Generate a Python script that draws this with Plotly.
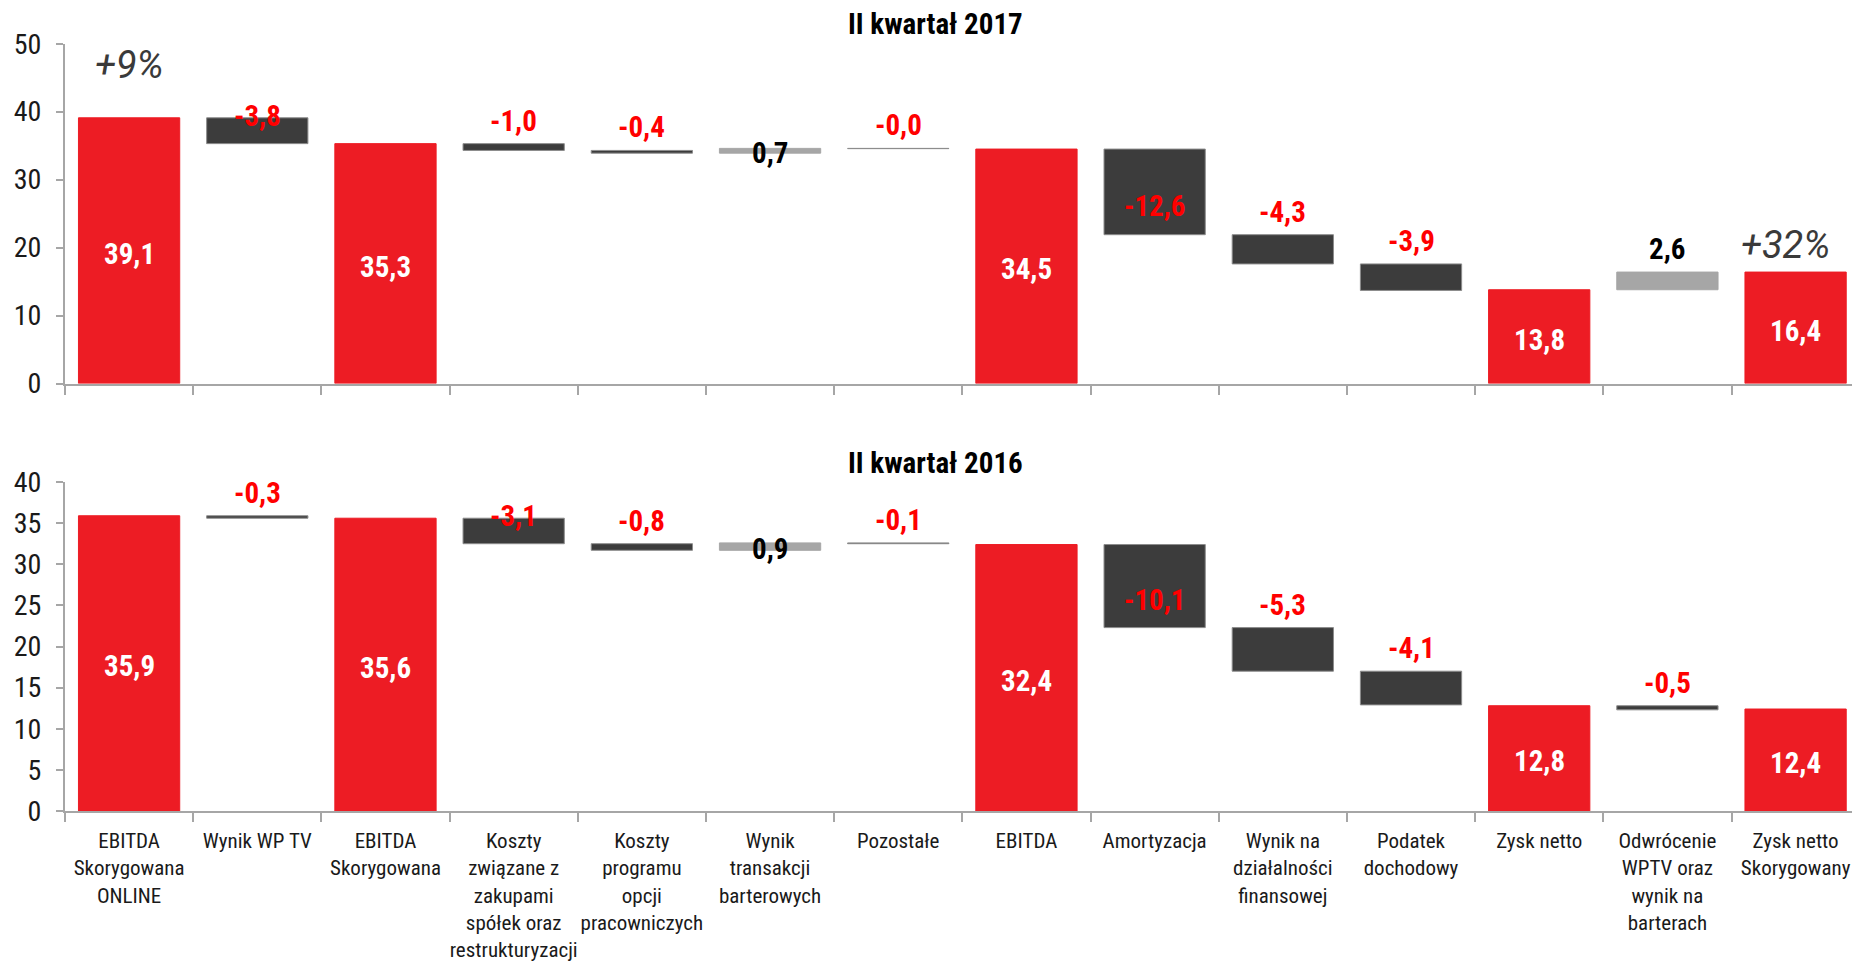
import plotly.graph_objects as go

# ---------------- data ----------------
categories = [
    "EBITDA<br>Skorygowana<br>ONLINE",
    "Wynik WP TV",
    "EBITDA<br>Skorygowana",
    "Koszty<br>związane z<br>zakupami<br>spółek oraz<br>restrukturyzacji",
    "Koszty<br>programu<br>opcji<br>pracowniczych",
    "Wynik<br>transakcji<br>barterowych",
    "Pozostałe",
    "EBITDA",
    "Amortyzacja",
    "Wynik na<br>działalności<br>finansowej",
    "Podatek<br>dochodowy",
    "Zysk netto",
    "Odwrócenie<br>WPTV oraz<br>wynik na<br>barterach",
    "Zysk netto<br>Skorygowany",
]
measures = ["absolute", "relative", "absolute", "relative", "relative", "relative", "relative",
            "absolute", "relative", "relative", "relative", "absolute", "relative", "absolute"]

values_2017 = [39.1, -3.8, 35.3, -1.0, -0.4, 0.7, -0.04, 34.5, -12.6, -4.3, -3.9, 13.8, 2.6, 16.4]
labels_2017 = ["39,1", "-3,8", "35,3", "-1,0", "-0,4", "0,7", "-0,0", "34,5", "-12,6", "-4,3",
               "-3,9", "13,8", "2,6", "16,4"]
values_2016 = [35.9, -0.3, 35.6, -3.1, -0.8, 0.9, -0.1, 32.4, -10.1, -5.3, -4.1, 12.8, -0.5, 12.4]
labels_2016 = ["35,9", "-0,3", "35,6", "-3,1", "-0,8", "0,9", "-0,1", "32,4", "-10,1", "-5,3",
               "-4,1", "12,8", "-0,5", "12,4"]

titles = ["II kwartał 2017", "II kwartał 2016"]
growth_labels = ["+9%", "+32%"]
growth_values = [46.8, 20.4]      # vertical level of the growth notes (top chart)
yticks_2017 = [0, 10, 20, 30, 40, 50]
yticks_2016 = [0, 5, 10, 15, 20, 25, 30, 35, 40]

# label placement styles
pos_2017 = ["mid", "edge", "mid", "above", "above", "on", "above", "mid", "mid", "above",
            "above", "mid", "above", "mid"]
pos_2016 = ["mid", "above", "mid", "edge", "above", "on", "above", "mid", "mid", "above",
            "above", "mid", "above", "mid"]

# ---------------- style ----------------
RED = "#ED1C24"
DARK = "#3C3C3C"
LIGHT = "#A6A6A6"
AXIS = "#A6A6A6"
LABEL_RED = "#FF0000"
FONT = "Roboto Condensed, Liberation Sans Narrow, DejaVu Sans Condensed, Arial Narrow, Roboto, sans-serif"

fig = go.Figure()


def levels(vals, meas):
    run = 0.0
    out = []
    for v, m in zip(vals, meas):
        if m == "absolute":
            base, top = 0.0, v
            run = v
        else:
            base, top = run, run + v
            run = run + v
        out.append((min(base, top), max(base, top)))
    return out


def add_chart(vals, meas, labels, pos, xa, ya):
    fig.add_trace(go.Waterfall(
        x=categories, y=vals, measure=meas, xaxis=xa, yaxis=ya,
        connector=dict(visible=False),
        increasing=dict(marker=dict(color=LIGHT, line=dict(color=LIGHT, width=1))),
        decreasing=dict(marker=dict(color=DARK, line=dict(color="#8C8C8C", width=1))),
        totals=dict(marker=dict(color=RED, line=dict(color=RED, width=1))),
        textinfo="none", hoverinfo="skip", showlegend=False,
    ))
    lv = levels(vals, meas)
    xref = "x" if xa == "x" else "x2"
    yref = "y" if ya == "y" else "y2"
    for c, (lo, hi), m, t, p, v in zip(categories, lv, meas, labels, pos, vals):
        if p == "mid":
            color = "white" if m == "absolute" else LABEL_RED
            y, yanchor, ys = (lo + hi) / 2, "middle", (-3 if m == "absolute" else -14)
        elif p == "edge":
            color, y, yanchor, ys = LABEL_RED, hi, "middle", 2
        elif p == "on":
            color, y, yanchor, ys = "black", (lo + hi) / 2, "middle", -2
        else:
            color = LABEL_RED if v < 0 else "black"
            y, yanchor, ys = hi, "bottom", 4
        fig.add_annotation(x=c, y=y, xref=xref, yref=yref, text=t, showarrow=False,
                           yanchor=yanchor, yshift=ys,
                           font=dict(family=FONT, size=29, color=color, weight="bold"))


add_chart(values_2017, measures, labels_2017, pos_2017, "x", "y")
add_chart(values_2016, measures, labels_2016, pos_2016, "x2", "y2")

xcommon = dict(type="category", range=[-0.5, 13.44], tickson="boundaries", ticks="outside",
               ticklen=9, tickwidth=2, tickcolor=AXIS, showline=True, linecolor=AXIS,
               linewidth=2, showgrid=False, zeroline=False, tickangle=0, automargin=False,
               ticklabelstandoff=10,
               tickfont=dict(family=FONT, size=21, color="#1A1A1A"))
ycommon = dict(ticks="outside", ticklen=7, tickwidth=2, tickcolor=AXIS, showline=True,
               linecolor=AXIS, linewidth=2, showgrid=False, zeroline=False, automargin=False,
               ticklabelstandoff=9,
               tickfont=dict(family=FONT, size=28, color="#1A1A1A"))

fig.update_layout(
    width=1852, height=961, autosize=False,
    margin=dict(l=65, r=0, t=0, b=0),
    paper_bgcolor="white", plot_bgcolor="white",
    waterfallgap=0.21,
    xaxis=dict(domain=[0, 1], anchor="y", showticklabels=False, **xcommon),
    yaxis=dict(domain=[0.6009, 0.9545], anchor="x", range=[0, 50], tickvals=yticks_2017,
               ticktext=[str(t) for t in yticks_2017], **ycommon),
    xaxis2=dict(domain=[0, 1], anchor="y2", showticklabels=True, **xcommon),
    yaxis2=dict(domain=[0.1561, 0.4984], anchor="x2", range=[0, 40], tickvals=yticks_2016,
                ticktext=[str(t) for t in yticks_2016], **ycommon),
)

# chart titles (paper x is relative to the plot area: 65 px .. 1852 px)
for t, yp in zip(titles, [1 - 24 / 961, 1 - 463 / 961]):
    fig.add_annotation(x=(935 - 65) / 1787, y=yp, xref="paper", yref="paper", text=t,
                       showarrow=False, xanchor="center", yanchor="middle",
                       font=dict(family=FONT, size=29, color="black", weight="bold"))

# growth notes
GFONT = dict(family="Roboto, sans-serif", size=38, color="#3A3A3A", style="italic", weight=400)
fig.add_annotation(x=categories[0], y=growth_values[0], xref="x", yref="y", text=growth_labels[0],
                   showarrow=False, font=GFONT)
fig.add_annotation(x=categories[13], y=growth_values[1], xref="x", yref="y", text=growth_labels[1],
                   showarrow=False, xshift=-10, font=GFONT)

fig.write_html("out.html", config={"displayModeBar": False},
               post_script="document.body.style.margin='0';")
